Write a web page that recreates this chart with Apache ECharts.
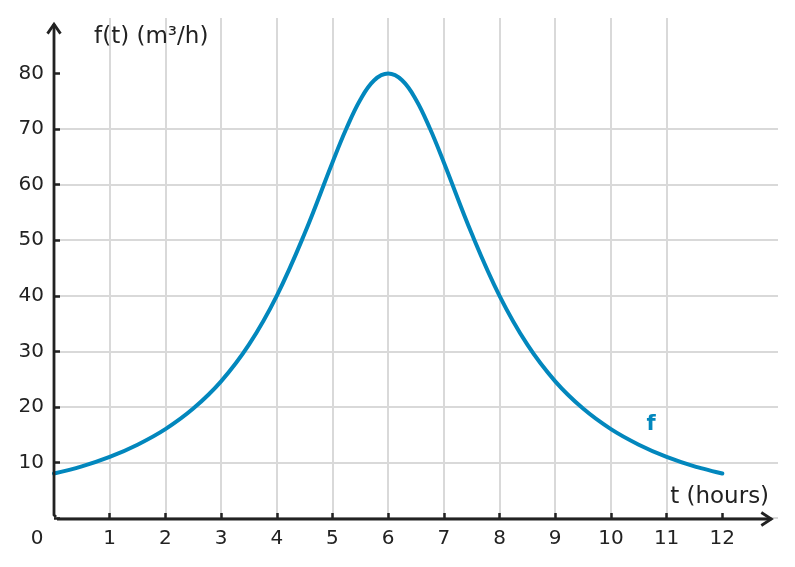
<!DOCTYPE html>
<html>
<head>
<meta charset="utf-8">
<script src="https://cdn.jsdelivr.net/npm/echarts@6/dist/echarts.min.js"></script>
<style>
    html, body { margin: 0; padding: 0; background: #fff; }
    #chart { width: 795px; height: 567px; }
</style>
</head>
<body>
<div id="chart"></div>
<script>
// 读图得到的数据
const tValues = [0, 0.5, 1, 1.5, 2, 2.5, 3, 3.5, 4, 4.5, 5, 5.25, 5.5, 5.75, 6,
    6.25, 6.5, 6.75, 7, 7.5, 8, 8.5, 9, 9.5, 10, 10.5, 11, 11.5, 12];
const flowValues = [8, 9.3, 11, 13.2, 16, 19.7, 24.6, 31.2, 40, 51.2, 64, 70.1, 75.3, 78.8, 80,
    78.8, 75.3, 70.1, 64, 51.2, 40, 31.2, 24.6, 19.7, 16, 13.2, 11, 9.3, 8];
const xTicks = [1, 2, 3, 4, 5, 6, 7, 8, 9, 10, 11, 12];
const yTicks = [0, 10, 20, 30, 40, 50, 60, 70, 80];
const yLabels = [10, 20, 30, 40, 50, 60, 70, 80];

const FONT = 'DejaVu Sans';
const AXIS_COLOR = '#222222';
const CURVE_COLOR = '#0287bd';
const GRID_COLOR = '#d9d9d9';

document.addEventListener('DOMContentLoaded', function () {
    const chartDom = document.getElementById('chart');
    const myChart = echarts.init(chartDom);

    const option = {
        animation: false,
        backgroundColor: '#ffffff',
        grid: { left: 54, right: 17, top: 18, bottom: 49 },
        xAxis: {
            type: 'value',
            min: 0,
            max: 13,
            interval: 1,
            axisLine: { show: false },
            axisTick: {
                show: true,
                inside: true,
                length: 5,
                customValues: xTicks,
                lineStyle: { color: AXIS_COLOR, width: 2.5 }
            },
            axisLabel: {
                customValues: xTicks,
                color: AXIS_COLOR,
                fontFamily: FONT,
                fontSize: 20,
                margin: 11
            },
            splitLine: {
                show: true,
                showMaxLine: false,
                lineStyle: { color: GRID_COLOR, width: 2 }
            }
        },
        yAxis: {
            type: 'value',
            min: 0,
            max: 90,
            interval: 10,
            axisLine: { show: false },
            axisTick: {
                show: true,
                inside: true,
                length: 6,
                customValues: yTicks,
                lineStyle: { color: AXIS_COLOR, width: 2.5 }
            },
            axisLabel: {
                customValues: yLabels,
                color: AXIS_COLOR,
                fontFamily: FONT,
                fontSize: 20,
                margin: 10
            },
            splitLine: {
                show: true,
                showMaxLine: false,
                lineStyle: { color: GRID_COLOR, width: 2 }
            }
        },
        series: [
            {
                name: 'f',
                type: 'line',
                data: tValues.map(function (t, i) { return [t, flowValues[i]]; }),
                smooth: 0.4,
                symbol: 'none',
                z: 5,
                lineStyle: { color: CURVE_COLOR, width: 4, cap: 'round' },
                markPoint: {
                    symbol: 'circle',
                    symbolSize: 1,
                    itemStyle: { color: 'transparent' },
                    label: {
                        show: true,
                        position: 'inside',
                        formatter: 'f',
                        color: CURVE_COLOR,
                        fontFamily: FONT,
                        fontWeight: 'bold',
                        fontSize: 21
                    },
                    data: [{ coord: [10.72, 16.9] }]
                }
            }
        ]
    };

    myChart.setOption(option);

    // 坐标轴、箭头和标题
    function drawAxes() {
        const o = myChart.convertToPixel({ gridIndex: 0 }, [0, 0]);
        const xTip = myChart.convertToPixel({ gridIndex: 0 }, [12.88, 0]);
        const yTip = myChart.convertToPixel({ gridIndex: 0 }, [0, 88.9]);
        const yTitle = myChart.convertToPixel({ gridIndex: 0 }, [0.72, 86.5]);
        const xTitle = myChart.convertToPixel({ gridIndex: 0 }, [12.84, 3.8]);
        const axisStyle = { stroke: AXIS_COLOR, lineWidth: 2.8, fill: null };
        const textStyle = { fill: AXIS_COLOR, fontFamily: FONT, fontSize: 20 };
        const titleStyle = { fill: AXIS_COLOR, fontFamily: FONT, fontSize: 23 };

        myChart.setOption({
            graphic: [
                {
                    type: 'polyline', z: 20, silent: true,
                    shape: { points: [[o[0], yTip[1]], [o[0], o[1] - 3], [o[0] + 2, o[1] - 1]] },
                    style: axisStyle
                },
                {
                    type: 'line', z: 20, silent: true,
                    shape: { x1: o[0] + 3, y1: o[1] + 1, x2: xTip[0], y2: o[1] + 1 },
                    style: axisStyle
                },
                {
                    type: 'polyline', z: 20, silent: true,
                    shape: { points: [[o[0] - 6.5, yTip[1] + 9.5], [o[0], yTip[1]], [o[0] + 6.5, yTip[1] + 9.5]] },
                    style: axisStyle
                },
                {
                    type: 'polyline', z: 20, silent: true,
                    shape: { points: [[xTip[0] - 10, o[1] - 5.5], [xTip[0], o[1] + 1], [xTip[0] - 10, o[1] + 7.5]] },
                    style: axisStyle
                },
                {
                    type: 'text', z: 20, silent: true,
                    x: o[0] - 17, y: o[1] + 21,
                    style: Object.assign({ text: '0', align: 'center', verticalAlign: 'middle' }, textStyle)
                },
                {
                    type: 'text', z: 20, silent: true,
                    x: yTitle[0], y: yTitle[1],
                    style: Object.assign({ text: 'f(t) (m³/h)', align: 'left', verticalAlign: 'middle' }, titleStyle)
                },
                {
                    type: 'text', z: 20, silent: true,
                    x: xTitle[0], y: xTitle[1],
                    style: Object.assign({ text: 't (hours)', align: 'right', verticalAlign: 'middle' }, titleStyle)
                }
            ]
        });
    }
    drawAxes();

    window.addEventListener('resize', function () {
        myChart.resize();
        drawAxes();
    });
});
</script>
</body>
</html>
